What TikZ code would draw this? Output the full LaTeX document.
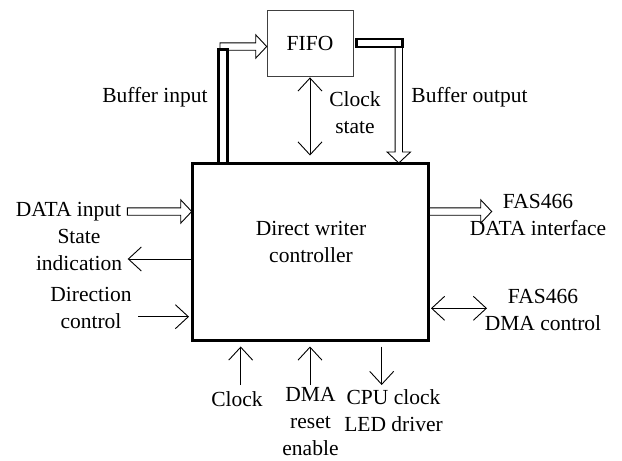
\documentclass[tikz,border=0pt]{standalone}
\usepackage{fontspec}
\setmainfont{Liberation Serif}
\usetikzlibrary{calc}
\usetikzlibrary{arrows.meta}

\tikzset{
  txt/.style={font=\fontsize{21.5}{27}\selectfont, align=center, inner sep=0pt, anchor=north, execute at begin node=\strut},
  sig/.style={line width=0.9pt, -{Straight Barb[length=13pt,width=24pt]}},
  bisig/.style={line width=0.9pt, {Straight Barb[length=13pt,width=24pt]}-{Straight Barb[length=13pt,width=24pt]}},
  bus/.style={draw, line width=2.6pt, fill=white},
  pics/fatarrow/.style={code={
    \draw[line width=0.9pt, fill=white] (0,-3.7) -- (#1-11,-3.7) -- (#1-11,-11.7) -- (#1,0)
      -- (#1-11,11.7) -- (#1-11,3.7) -- (0,3.7) -- cycle;
  }}
}

\begin{document}
\begin{tikzpicture}[x=1pt, y=-1pt]
\useasboundingbox (0,0) rectangle (622,461);

% blocks
\node[draw, line width=3pt, minimum width=236, minimum height=177, inner sep=0pt] (ctrl) at (310,251.5) {};
\node[draw=black!75, line width=0.8pt, minimum width=86, minimum height=66, inner sep=0pt,
      font=\fontsize{21.5}{27}\selectfont] (fifo) at (310,43) {FIFO};
\node[txt] (ctrltext) at (311,221.1) {Direct writer\\controller};

% buffer in/out
\pic at (220,46.5) {fatarrow=46.7};
\draw[bus] (218.5,49.3) rectangle (227.5,163);
\pic[rotate=-90] at (398.8,47) {fatarrow=116};
\draw[bus] (356.3,39) rectangle (402.7,47);

\node[txt] (bufin) at (155,83.1) {Buffer input};
\node[txt] (bufout) at (469.5,83.1) {Buffer output};
\node[txt] (clkstate) at (355,91.1) {Clock\\state};
\draw[bisig, shorten <=1pt, shorten >=6pt] (fifo.south) -- (ctrl.north);

% left side
\node[txt] (datain) at (68.5,197.1) {DATA input};
\pic at (127.3,211.5) {fatarrow=64.4};
\node[txt] (stateind) at (79,229.1) {State\\indication};
\coordinate (stout) at (127.7,259);
\draw[sig] (stout -| ctrl.west) -- (stout);
\node[txt] (dirctrl) at (91,287.1) {Direction\\control};
\coordinate (dirin) at (138,316.7);
\draw[sig, shorten >=1.5pt] (dirin) -- (dirin -| ctrl.west);

% right side
\pic at (429.5,211.5) {fatarrow=62.2};
\node[txt] (fasdata) at (538,194.1) {FAS466\\DATA interface};
\node[txt] (fasdma) at (543,289.1) {FAS466\\DMA control};
\coordinate (dmaout) at (487,308.3);
\draw[bisig, shorten <=1.5pt] (dmaout -| ctrl.east) -- (dmaout);

% bottom
\coordinate (clkin) at (240.7,385);
\coordinate (dmain) at (310,385);
\coordinate (cpuout) at (381.7,385);
\draw[sig, shorten >=5pt] (clkin) -- (clkin |- ctrl.south);
\draw[sig, shorten >=5pt] (dmain) -- (dmain |- ctrl.south);
\draw[sig, shorten <=5pt] (cpuout |- ctrl.south) -- (cpuout);
\node[txt] (clk) at (237,387.1) {Clock};
\node[txt] (dmareset) at (310.5,387.1) {DMA\\reset\\enable};
\node[txt] (cpuclk) at (393.5,389.1) {CPU clock\\LED driver};

\end{tikzpicture}
\end{document}
